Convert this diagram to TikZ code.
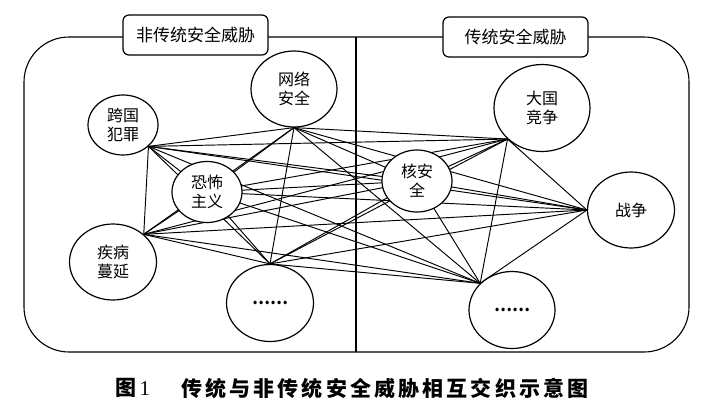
\documentclass[tikz,border=0pt]{standalone}
\usepackage{fontspec}
\newfontfamily\cjk{Noto Sans CJK SC}
\newfontfamily\cjkcap[LetterSpace=15]{Noto Sans CJK SC}
\setmainfont{Liberation Serif}
\usetikzlibrary{shapes.geometric}
\pgfdeclarelayer{bg}
\pgfsetlayers{bg,main}
\begin{document}
\begin{tikzpicture}[x=1pt,y=-1pt,
  threat/.style={ellipse, draw, line width=1.2pt, fill=white, inner sep=0pt,
    font=\cjk\fontsize{16}{19}\selectfont, align=center},
  titlebox/.style={draw, line width=1.2pt, fill=white, rounded corners=6pt,
    inner sep=0pt, font=\cjk\fontsize{17}{20}\selectfont},
  link/.style={line width=0.95pt},
  frame/.style={line width=1.1pt}]
\useasboundingbox (0,0) rectangle (707,418);

% threat nodes
\node[threat, minimum width=70pt, minimum height=60pt] (A) at (123,125) {跨国\\犯罪};
\node[threat, minimum width=86pt, minimum height=76pt] (B) at (294,89) {网络\\安全};
\node[threat, minimum width=70pt, minimum height=61pt] (C) at (207,192) {恐怖\\主义};
\node[threat, minimum width=87pt, minimum height=76pt] (D) at (113,262) {疾病\\蔓延};
\node[threat, minimum width=87pt, minimum height=77pt] (E) at (270,303) {\bfseries……};
\node[threat, minimum width=70pt, minimum height=62pt] (F) at (417,181) {核安\\全};
\node[threat, minimum width=96pt, minimum height=87pt] (G) at (542,108) {大国\\竞争};
\node[threat, minimum width=87pt, minimum height=76pt] (H) at (631,210) {战争};
\node[threat, minimum width=86pt, minimum height=77pt] (I) at (512,310) {\bfseries……};

% attachment points of the connectors
\coordinate (pA) at (A.-40);
\coordinate (pB) at (B.south);
\coordinate (pC) at (C.center);
\coordinate (pD) at (D.42);
\coordinate (pE) at (E.north);
\coordinate (pF) at (F.center);
\coordinate (pG) at (G.222);
\coordinate (pH) at (H.west);
\coordinate (pI) at (I.140);

% title boxes
\node[titlebox, minimum width=145pt, minimum height=40pt] (T1) at (195.5,35) {非传统安全威胁};
\node[titlebox, minimum width=145pt, minimum height=40pt] (T2) at (515.5,37) {传统安全威胁};

\begin{pgfonlayer}{bg}
  \fill[white] (0,0) rectangle (707,418);
  \draw[frame, rounded corners=45pt] (24,37) rectangle (689,352);
  \coordinate (divtop) at (356,37);
  \coordinate (divbot) at (356,352);
  \draw[frame] (divtop) -- (divbot);
  \foreach \a/\rest in {A/{B,C,D,E,F,G,H,I}, B/{C,D,E,F,G,H,I}, C/{D,E,F,G,H,I},
      D/{E,F,G,H,I}, E/{F,G,H,I}, F/{G,H,I}, G/{H,I}, H/{I}}
    \foreach \b in \rest
      \draw[link] (p\a) -- (p\b);
\end{pgfonlayer}

% caption
\node[anchor=west, inner sep=0pt, font=\cjk\bfseries\fontsize{21}{24}\selectfont] (cap1) at (115,388) {图\,{\rmfamily\mdseries 1}};
\node[anchor=west, inner sep=0pt, font=\cjkcap\bfseries\fontsize{21}{24}\selectfont] (cap2) at (181,388) {传统与非传统安全威胁相互交织示意图};
\end{tikzpicture}
\end{document}
